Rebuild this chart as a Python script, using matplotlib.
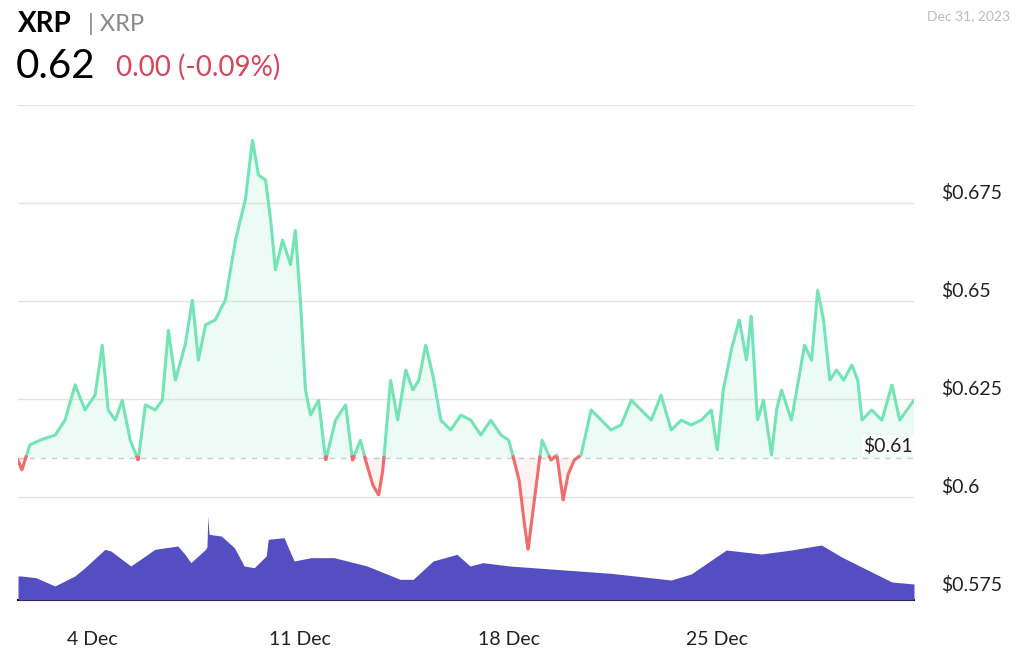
import numpy as np
import matplotlib.pyplot as plt
from matplotlib.transforms import ScaledTranslation, blended_transform_factory

plt.rcParams["font.family"] = "Lato"

# day of December 2023 (fractional) and XRP price
days = [1.51, 1.64, 1.91, 2.25, 2.76, 3.09, 3.43, 3.76, 4.10, 4.34, 4.54, 4.78, 5.01, 5.28, 5.55,
        5.79, 6.12, 6.36, 6.56, 6.80, 7.13, 7.37, 7.57, 7.81, 8.14, 8.48, 8.82, 9.15, 9.39, 9.59,
        9.83, 10.0, 10.16, 10.40, 10.67, 10.83, 11.0, 11.17, 11.34, 11.61, 11.85, 12.18, 12.52,
        12.75, 13.02, 13.19, 13.43, 13.63, 13.77, 14.03, 14.27, 14.54, 14.78, 14.98, 15.21, 15.45,
        15.72, 16.05, 16.39, 16.73, 17.06, 17.40, 17.74, 18.0, 18.18, 18.35, 18.51, 18.65, 18.82,
        18.99, 19.12, 19.42, 19.62, 19.83, 19.99, 20.20, 20.43, 20.77, 21.11, 21.44, 21.78, 22.12,
        22.45, 22.79, 23.12, 23.46, 23.80, 24.13, 24.47, 24.81, 25.01, 25.21, 25.48, 25.75, 25.99,
        26.15, 26.36, 26.56, 26.83, 27.0, 27.17, 27.50, 27.74, 27.94, 28.18, 28.38, 28.58, 28.79,
        29.02, 29.26, 29.53, 29.73, 29.87, 30.20, 30.54, 30.88, 31.14, 31.38, 31.62]
price = [0.6094, 0.6069, 0.6133, 0.6145, 0.6158, 0.6196, 0.6286, 0.6222, 0.6260, 0.6388, 0.6222,
         0.6196, 0.6247, 0.6145, 0.6094, 0.6235, 0.6222, 0.6247, 0.6426, 0.6298, 0.6388, 0.6503,
         0.6349, 0.6439, 0.6452, 0.6503, 0.6656, 0.6758, 0.6911, 0.6821, 0.6809, 0.6707, 0.6579,
         0.6656, 0.6592, 0.6681, 0.6503, 0.6273, 0.6209, 0.6247, 0.6094, 0.6196, 0.6235, 0.6094,
         0.6145, 0.6094, 0.6031, 0.6005, 0.6069, 0.6298, 0.6196, 0.6324, 0.6273, 0.6298, 0.6388,
         0.6311, 0.6196, 0.6171, 0.6209, 0.6196, 0.6158, 0.6196, 0.6158, 0.6145, 0.6094, 0.6043,
         0.5941, 0.5865, 0.5967, 0.6069, 0.6145, 0.6094, 0.6107, 0.5992, 0.6056, 0.6094, 0.6107,
         0.6222, 0.6196, 0.6171, 0.6184, 0.6247, 0.6222, 0.6196, 0.6260, 0.6171, 0.6196, 0.6184,
         0.6196, 0.6222, 0.6120, 0.6273, 0.6375, 0.6452, 0.6349, 0.6464, 0.6196, 0.6247, 0.6107,
         0.6222, 0.6273, 0.6196, 0.6298, 0.6388, 0.6349, 0.6528, 0.6452, 0.6298, 0.6324, 0.6298,
         0.6337, 0.6298, 0.6196, 0.6222, 0.6196, 0.6286, 0.6196, 0.6222, 0.6247]

vol_days = [1.51, 1.62, 2.11, 2.75, 3.42, 3.76, 4.43, 4.63, 5.30, 6.11, 6.88, 7.12, 7.32, 7.81,
            7.86, 7.89, 7.93, 8.34, 8.78, 9.11, 9.45, 9.85, 9.92, 10.45, 10.69, 10.79, 11.36, 12.13,
            13.24, 14.35, 14.79, 15.46, 16.26, 16.70, 17.13, 18.04, 19.42, 21.44, 23.46, 24.13,
            25.31, 26.49, 27.50, 28.51, 29.19, 30.20, 30.88, 31.62]
volume = [72, 72, 67, 42, 72, 97, 152, 147, 102, 152, 162, 137, 112, 152, 160, 251, 197, 192, 157,
          102, 97, 132, 182, 187, 137, 117, 127, 127, 102, 62, 62, 117, 137, 102, 112, 102, 93, 80,
          60, 78, 150, 138, 150, 165, 129, 84, 54, 48]

baseline = 0.61
green = "#72e4b6"
red = "#f06b6b"

fig = plt.figure(figsize=(10.24, 6.52), dpi=100)
ax = fig.add_axes([18 / 1024, 52 / 652, 896 / 1024, 495 / 652])
ax.set_xlim(days[0], days[-1])
ax.set_ylim(0.7 - 495 / 3920, 0.7)

d = np.array(days)
p = np.array(price)
# fine resampling only to split line colour at the baseline
xf = np.linspace(d[0], d[-1], 4000)
pf = np.interp(xf, d, p)
ax.fill_between(xf, pf, baseline, where=pf >= baseline, color=green, alpha=0.12, lw=0)
ax.fill_between(xf, pf, baseline, where=pf < baseline, color=red, alpha=0.08, lw=0)
ax.plot(xf, np.where(pf >= baseline - 0.0003, pf, np.nan), color=green, lw=2.2)
ax.plot(xf, np.where(pf <= baseline + 0.0003, pf, np.nan), color=red, lw=2.2)
ax.axhline(baseline, color="#cccccc", lw=1, ls=(0, (4, 4)), zorder=0)

vax = ax.twinx()
vax.set_ylim(0, 495 * 3)
vax.fill_between(vol_days, volume, 0, color="#534fc2", lw=0)
vax.set_axis_off()

for s in ["top", "left", "right"]:
    ax.spines[s].set_visible(False)
ax.spines["bottom"].set_color("black")
ax.spines["bottom"].set_linewidth(1.5)
ax.spines["bottom"].set_zorder(5)

yt = [0.575, 0.6, 0.625, 0.65, 0.675, 0.7]
for y in yt[1:]:
    ax.axhline(y, color="#e3e3e3", lw=1, zorder=0)
tr = blended_transform_factory(ax.transAxes, ax.transData)
for y, lab in zip(yt[:-1], ["$0.575", "$0.6", "$0.625", "$0.65", "$0.675"]):
    ax.text(1.03, y, lab, transform=tr + ScaledTranslation(0, 10 / 100, fig.dpi_scale_trans),
            fontsize=14, color="#222222", va="center", ha="left")
ax.set_yticks([])
ax.text(0.9985, baseline, "$0.61", transform=tr + ScaledTranslation(0, 12 / 100, fig.dpi_scale_trans),
        fontsize=14, color="#222222", va="center", ha="right",
        bbox=dict(facecolor="white", edgecolor="none", alpha=0.8, pad=1))

ax.set_xticks([4, 11, 18, 25])
ax.set_xticklabels(["4 Dec", "11 Dec", "18 Dec", "25 Dec"], fontsize=14, color="#222222")
ax.tick_params(axis="x", length=0, pad=22)

fig.text(18 / 1024, 1 - 24 / 652, "XRP", fontsize=20, fontweight="bold", va="center")
fig.text(88 / 1024, 1 - 24 / 652, "| XRP", fontsize=17, color="#888888", va="center")
fig.text(16 / 1024, 1 - 67 / 652, "0.62", fontsize=29, va="center")
fig.text(116 / 1024, 1 - 67 / 652, "0.00 (-0.09%)", fontsize=20, color="#d6455a", va="center")
fig.text(1010 / 1024, 1 - 16 / 652, "Dec 31, 2023", fontsize=10, color="#bbbbbb", va="center", ha="right")

fig.savefig("out.png", dpi=100)
